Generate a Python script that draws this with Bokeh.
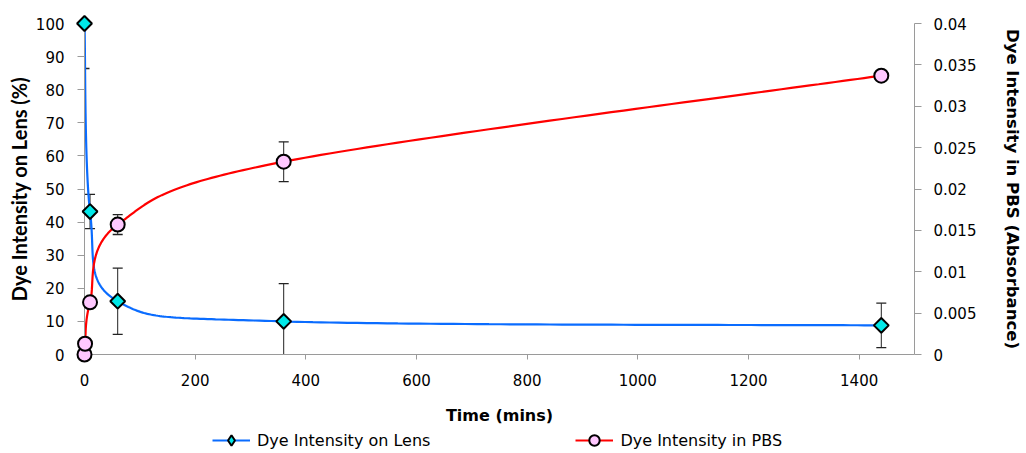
import numpy as np
from bokeh.plotting import figure
from bokeh.layouts import column
from bokeh.models import (Range1d, LinearAxis, FixedTicker, CustomJSTickFormatter,
                          Legend, LegendItem)
from bokeh.embed import file_html
from bokeh.resources import INLINE

# ---------------- data ----------------
lens_time = [0, 10, 60, 360, 1440]
lens_val = [100, 43.2, 16.1, 10.0, 8.8]
lens_err = [13.6, 5.2, 10.0, 11.4, 6.7]

pbs_time = [0, 1, 10, 60, 360, 1440]
pbs_val = [0.0, 0.0013, 0.0063, 0.0157, 0.0233, 0.0337]
pbs_err = [0.0, 0.0, 0.0004, 0.0012, 0.0024, 0.0005]

x_ticks = [0, 200, 400, 600, 800, 1000, 1200, 1400]
left_ticks = list(range(0, 101, 10))
right_ticks = [0, 0.005, 0.01, 0.015, 0.02, 0.025, 0.03, 0.035, 0.04]

series_names = ["Dye Intensity on Lens", "Dye Intensity in PBS"]

X_MAX, Y_MAX, Y2_MAX = 1500, 100, 0.04
FW, FH = 830, 332

BLUE = "#0A6CFF"
RED = "#FF0000"
CYAN = "#00E8E8"
PINK = "#FFC8FF"
GRAY = "#9A9A9A"
TICK_FONT = "DejaVu Sans"


def excel_smooth(xs, ys, sx, sy, n=60):
    """Excel-style smoothed line (cubic Bezier, 1/6 tangent) computed in pixel space."""
    P = np.column_stack([np.asarray(xs, float) * sx, np.asarray(ys, float) * sy])
    ox, oy = [], []
    t = np.linspace(0, 1, n)[:, None]
    for i in range(len(P) - 1):
        p0 = P[i - 1] if i > 0 else P[i]
        p1, p2 = P[i], P[i + 1]
        p3 = P[i + 2] if i + 2 < len(P) else P[i + 1]
        c1 = p1 + (p2 - p0) / 6.0
        c2 = p2 - (p3 - p1) / 6.0
        b = ((1 - t) ** 3) * p1 + 3 * ((1 - t) ** 2) * t * c1 + 3 * (1 - t) * t * t * c2 + (t ** 3) * p2
        ox.extend(b[:, 0] / sx)
        oy.extend(b[:, 1] / sy)
    return ox, oy


p = figure(width=1026, height=427,
           x_range=Range1d(0, X_MAX), y_range=Range1d(0, Y_MAX),
           output_backend="svg", toolbar_location=None,
           min_border_left=84, min_border_right=112,
           min_border_top=23, min_border_bottom=72,
           background_fill_color="white", border_fill_color="white")
p.outline_line_color = None
p.grid.visible = False
p.extra_y_ranges = {"pbs": Range1d(0, Y2_MAX)}

# axes styling
def style_axis(ax):
    ax.axis_line_color = GRAY
    ax.major_tick_line_color = GRAY
    ax.minor_tick_line_color = None
    ax.major_tick_in = 0
    ax.major_label_text_font = TICK_FONT
    ax.major_label_text_font_size = "15px"
    ax.major_label_text_color = "black"
    ax.axis_label_text_color = "black"
    ax.axis_label_text_font_style = "bold"

xa = p.xaxis[0]
style_axis(xa)
xa.ticker = FixedTicker(ticks=x_ticks)
xa.major_tick_out = 5
xa.major_label_standoff = 14
xa.axis_label = "Time (mins)"
xa.axis_label_text_font = "DejaVu Sans"
xa.axis_label_text_font_size = "16px"
xa.axis_label_standoff = 17

ya = p.yaxis[0]
style_axis(ya)
ya.ticker = FixedTicker(ticks=left_ticks)
ya.major_tick_out = 7
ya.major_label_standoff = 13
ya.axis_label = "Dye Intensity on Lens (%)"
ya.axis_label_text_font = "Lato"
ya.axis_label_text_font_size = "20px"
ya.axis_label_standoff = 2

ra = LinearAxis(y_range_name="pbs")
style_axis(ra)
ra.ticker = FixedTicker(ticks=right_ticks)
ra.formatter = CustomJSTickFormatter(code="""
    let s = tick.toFixed(3);
    s = s.replace(/0+$/, '').replace(/\\.$/, '');
    return s;
""")
ra.major_tick_out = 7
ra.major_label_standoff = 12
ra.axis_label = "Dye Intensity in PBS (Absorbance)"
ra.axis_label_text_font = "DejaVu Sans"
ra.axis_label_text_font_size = "16.5px"
ra.axis_label_standoff = 24
p.add_layout(ra, "right")

# error bars (clipped to the frame like the original)
lens_lo = [v - e for v, e in zip(lens_val, lens_err)]
lens_hi = [v + e for v, e in zip(lens_val, lens_err)]
pbs_lo = [v - e for v, e in zip(pbs_val, pbs_err)]
pbs_hi = [v + e for v, e in zip(pbs_val, pbs_err)]

p.segment(lens_time, lens_lo, lens_time, lens_hi, line_color="#222222", line_width=1)
p.scatter(lens_time + lens_time, lens_lo + lens_hi, marker="dash", size=10,
          line_color="#222222", line_width=1.3)
p.segment(pbs_time, pbs_lo, pbs_time, pbs_hi, line_color="#222222", line_width=1,
          y_range_name="pbs")
p.scatter(pbs_time + pbs_time, pbs_lo + pbs_hi, marker="dash", size=10,
          line_color="#222222", line_width=1.3, y_range_name="pbs")

# smoothed lines
sx = FW / X_MAX
lx, ly = excel_smooth(lens_time, lens_val, sx, FH / Y_MAX)
px_, py_ = excel_smooth(pbs_time, pbs_val, sx, FH / Y2_MAX)
p.line(lx, ly, line_color=BLUE, line_width=2.2)
p.line(px_, py_, line_color=RED, line_width=2.2, y_range_name="pbs")

# markers
p.scatter(lens_time, lens_val, marker="square", size=10.5, angle=np.pi / 4,
          fill_color=CYAN, line_color="black", line_width=2, level="overlay")
p.scatter(pbs_time, pbs_val, marker="circle", size=14,
          fill_color=PINK, line_color="black", line_width=2,
          y_range_name="pbs", level="overlay")

# ---------------- legend strip (below the chart) ----------------
# its ranges are set away from the data so that only the legend swatches show
lg = figure(width=1026, height=26, x_range=Range1d(-3000, -2000), y_range=Range1d(-3000, -2000),
            output_backend="svg", toolbar_location=None,
            x_axis_location=None, y_axis_location=None,
            min_border_left=84, min_border_right=112, min_border_top=0, min_border_bottom=0,
            background_fill_color="white", border_fill_color="white")
lg.outline_line_color = None
lg.grid.visible = False
bl = lg.line(x=lens_time[:2], y=lens_val[:2], line_color=BLUE, line_width=2.2)
bm = lg.scatter(x=lens_time[:1], y=lens_val[:1], marker="diamond", size=15,
                fill_color=CYAN, line_color="black", line_width=2)
rl = lg.line(x=pbs_time[:2], y=pbs_val[:2], line_color=RED, line_width=2.2)
rm = lg.scatter(x=pbs_time[:1], y=pbs_val[:1], marker="circle", size=13,
                fill_color=PINK, line_color="black", line_width=2)
legend = Legend(items=[
    LegendItem(label=series_names[0], renderers=[bl, bm]),
    LegendItem(label=series_names[1], renderers=[rl, rm]),
], orientation="horizontal", location=(128, 0))
legend.label_text_font = TICK_FONT
legend.label_text_font_size = "16px"
legend.label_text_color = "black"
legend.glyph_width = 38
legend.glyph_height = 26
legend.label_height = 26
legend.label_standoff = 7
legend.spacing = 145
legend.border_line_color = None
legend.background_fill_alpha = 0
legend.padding = 0
legend.margin = 0
lg.add_layout(legend, "center")

layout = column(p, lg, spacing=0)
open("out.html", "w").write(file_html(layout, INLINE))
